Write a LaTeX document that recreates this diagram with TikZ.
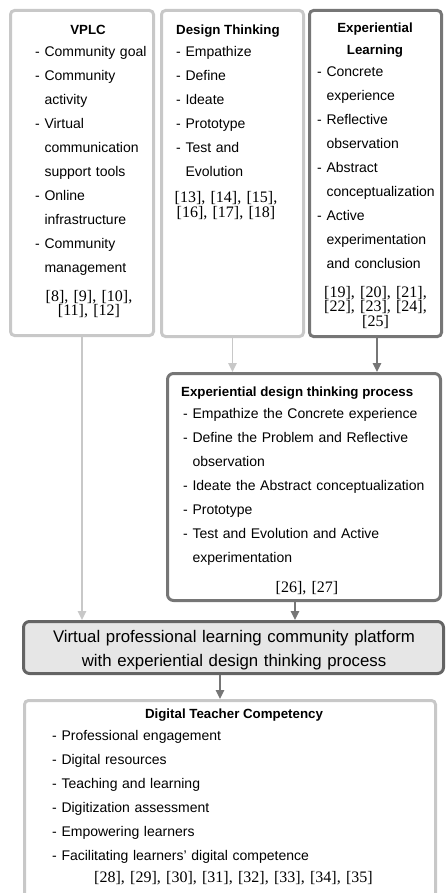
\documentclass[tikz,border=0pt]{standalone}
\usepackage{fontspec}
\setmainfont{Liberation Sans}
\newfontfamily\reffont{Liberation Serif}
\usetikzlibrary{arrows.meta}

\definecolor{grisclair}{HTML}{C8C8C8}
\definecolor{grisfonce}{HTML}{767676}
\definecolor{grisfond}{HTML}{E6E6E6}

\newcommand{\liste}{\fontsize{14pt}{24pt}\selectfont}
\newcommand{\titre}{\fontsize{13.3pt}{22pt}\selectfont\bfseries}
\newcommand{\refs}{\reffont\fontsize{16pt}{13.5pt}\selectfont}
\newcommand{\suite}{\phantom{- }}

\begin{document}
\begin{tikzpicture}[x=1pt, y=-1pt,
	boiteclaire/.style={draw=grisclair, line width=3pt, rounded corners=4pt, inner sep=0pt},
	boitefonce/.style={draw=grisfonce, line width=3pt, rounded corners=6pt, inner sep=0pt},
	titre/.style={inner sep=0pt, font=\titre},
	liste/.style={anchor=base west, inner sep=0pt, align=left, text width=#1, font=\liste},
	refs/.style={anchor=base, inner sep=0pt, align=center, text width=#1, font=\refs},
	fleche/.style={-{Triangle[length=9pt,width=8.5pt]}, line width=1.6pt}]
	\useasboundingbox (0,0) rectangle (446,893);
	%les boites
	\node[boiteclaire, minimum width=143pt, minimum height=325pt] (vplc) at (82,173) {};
	\node[boiteclaire, minimum width=142pt, minimum height=326pt] (dt) at (232.5,173.5) {};
	\node[boitefonce, rounded corners=4pt, minimum width=132pt, minimum height=326pt] (el) at (375.5,173.5) {};
	\node[boitefonce, minimum width=273pt, minimum height=227pt] (edtp) at (304,487) {};
	\node[boitefonce, draw=grisfonce!85!black, fill=grisfond, minimum width=420pt, minimum height=52pt] (plat) at (233.5,647.5) {};
	\node[boiteclaire, minimum width=411pt, minimum height=204.5pt] (dtc) at (230,802.75) {};
	%VPLC
	\node[titre, anchor=base] (vplc-titre) at (88,35) {VPLC};
	\node[liste=140pt] (vplc-liste) at (35,57) {- Community goal\\
		- Community\\ \suite activity\\
		- Virtual\\ \suite communication\\ \suite support tools\\
		- Online\\ \suite infrastructure\\
		- Community\\ \suite management};
	\node[refs=120pt] (vplc-refs) at (89,301) {[8], [9], [10],\\{}[11], [12]};
	%design thinking
	\node[titre, anchor=base west] (dt-titre) at (176,35) {Design Thinking};
	\node[liste=125pt] (dt-liste) at (176,57) {- Empathize\\ - Define\\ - Ideate\\
		- Prototype\\ - Test and\\ \suite Evolution};
	\node[refs=130pt] (dt-refs) at (226,203) {[13], [14], [15],\\{}[16], [17], [18]};
	%experiential learning
	\node[titre, anchor=base, align=center, text width=130pt] (el-titre) at (375,33) {Experiential\\ Learning};
	\node[liste=125pt] (el-liste) at (317,77) {- Concrete\\ \suite experience\\
		- Reflective\\ \suite observation\\
		- Abstract\\ \suite conceptualization\\
		- Active\\ \suite experimentation\\ \suite and conclusion};
	\node[refs=125pt] (el-refs) at (375.5,297) {[19], [20], [21],\\{}[22], [23], [24],\\{}[25]};
	%processus
	\node[titre, anchor=base west] (edtp-titre) at (181,396) {Experiential design thinking process};
	\node[liste=255pt] (edtp-liste) at (183,418.5) {- Empathize the Concrete experience\\
		- Define the Problem and Reflective\\ \suite observation\\
		- Ideate the Abstract conceptualization\\
		- Prototype\\
		- Test and Evolution and Active\\ \suite experimentation};
	\node[refs=150pt] (edtp-refs) at (307,592) {[26], [27]};
	%plateforme
	\node[anchor=base, inner sep=0pt, align=center, text width=415pt, font=\fontsize{16.8pt}{24pt}\selectfont] (plat-texte) at (234,642)
		{Virtual professional learning community platform\\ with experiential design thinking process};
	%competences
	\node[titre, anchor=base] (dtc-titre) at (234,718) {Digital Teacher Competency};
	\node[liste=370pt] (dtc-liste) at (52,740.5) {- Professional engagement\\
		- Digital resources\\ - Teaching and learning\\ - Digitization assessment\\
		- Empowering learners\\ - Facilitating learners' digital competence};
	\node[refs=380pt] (dtc-refs) at (233.5,882) {[28], [29], [30], [31], [32], [33], [34], [35]};
	%les fleches
	\draw[fleche, grisclair] (vplc.south) -- (vplc.south |- plat.north);
	\draw[fleche, grisclair] (dt.south) -- (dt.south |- edtp.north);
	\draw[fleche, grisfonce] ([xshift=1.5pt]el.south) -- ([xshift=1.5pt]el.south |- edtp.north);
	\draw[fleche, grisfonce] ([xshift=-9pt]edtp.south) -- ([xshift=-9pt]edtp.south |- plat.north);
	\draw[fleche, grisfonce] ([xshift=-13.5pt]plat.south) -- ([xshift=-13.5pt]plat.south |- dtc.north);
\end{tikzpicture}
\end{document}
